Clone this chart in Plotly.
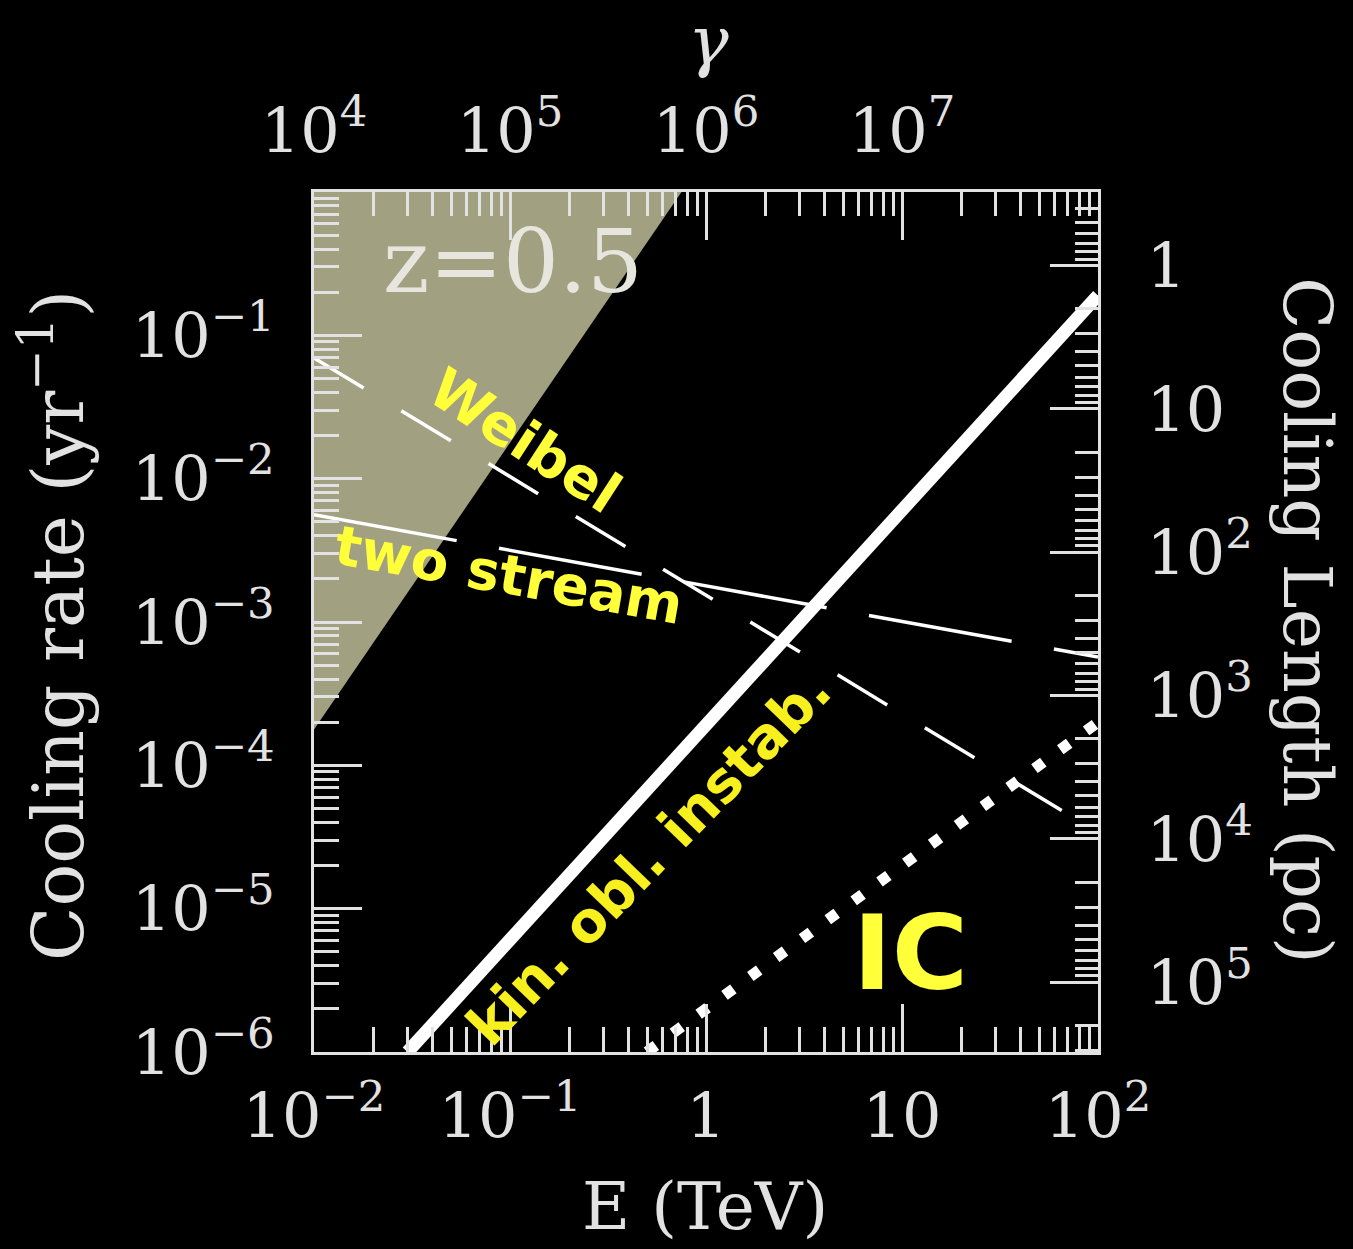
import math
import plotly.graph_objects as go

# ---- data: electron energy (TeV) vs. cooling rate (yr^-1) ----
# region excluded at z = 0.5 (shaded)
shade_E = [0.01, 0.01, 0.75]
shade_rate = [1.78e-4, 1.0, 1.0]

# kinetic oblique instability
kin_E = [0.03, 100]
kin_rate = [1e-6, 0.19]

# Weibel instability
weibel_E = [0.01, 100]
weibel_rate = [0.0695, 3.4e-5]

# two-stream instability
twostream_E = [0.01, 100]
twostream_rate = [5.6e-3, 5.7e-4]

# inverse Compton
ic_E = [0.5, 100]
ic_rate = [1e-6, 2.0e-4]

# tick values and labels
E_ticks = [0.01, 0.1, 1, 10, 100]
E_labels = ["10<sup>−2</sup>", "10<sup>−1</sup>", "1", "10", "10<sup>2</sup>"]
rate_ticks = [1e-6, 1e-5, 1e-4, 1e-3, 1e-2, 1e-1]
rate_labels = ["10<sup>−6</sup>", "10<sup>−5</sup>", "10<sup>−4</sup>",
               "10<sup>−3</sup>", "10<sup>−2</sup>", "10<sup>−1</sup>"]
gamma_ticks = [1e4, 1e5, 1e6, 1e7]
gamma_labels = ["10<sup>4</sup>", "10<sup>5</sup>", "10<sup>6</sup>", "10<sup>7</sup>"]
length_ticks = [1, 10, 100, 1e3, 1e4, 1e5]
length_labels = ["1", "10", "10<sup>2</sup>", "10<sup>3</sup>", "10<sup>4</sup>", "10<sup>5</sup>"]

# axis ranges (log10)
E_RANGE = [-2, 2]
RATE_RANGE = [-6, 0]
GAMMA_RANGE = [4, 8]
LY_PC = 0.3066  # one light-year in parsec: length = c / rate
LEN_RANGE = [math.log10(LY_PC) - RATE_RANGE[0], math.log10(LY_PC) - RATE_RANGE[1]]

FG = "#e2e2e2"
SERIF = "DejaVu Serif"
YELLOW = "#ffff3a"
HAND = "DejaVu Sans"


def minor_vals(lo, hi):
    vals = []
    for k in range(math.floor(lo), math.ceil(hi) + 1):
        for m in range(2, 10):
            v = m * 10 ** k
            if 10 ** lo <= v <= 10 ** hi:
                vals.append(v)
    return vals


fig = go.Figure()

fig.add_trace(go.Scatter(
    x=shade_E, y=shade_rate, mode="lines", fill="toself",
    fillcolor="#a1a182", line=dict(width=0), hoverinfo="skip", showlegend=False))

fig.add_trace(go.Scatter(
    x=weibel_E, y=weibel_rate, mode="lines",
    line=dict(color="white", width=3.5, dash="58px,44px"), showlegend=False))

fig.add_trace(go.Scatter(
    x=twostream_E, y=twostream_rate, mode="lines",
    line=dict(color="white", width=3.5, dash="145px,43px"), showlegend=False))

fig.add_trace(go.Scatter(
    x=ic_E, y=ic_rate, mode="lines",
    line=dict(color="white", width=11, dash="11px,21px"), showlegend=False))

fig.add_trace(go.Scatter(
    x=kin_E, y=kin_rate, mode="lines",
    line=dict(color="white", width=13), showlegend=False))

tick_font = dict(family=SERIF, size=62, color=FG)
common = dict(
    type="log", showgrid=False, zeroline=False,
    showline=True, linecolor=FG, linewidth=3,
    ticks="inside", ticklen=48, tickwidth=3, tickcolor=FG,
    tickfont=tick_font,
)

fig.update_layout(
    width=1353, height=1249, autosize=False,
    paper_bgcolor="black", plot_bgcolor="black",
    margin=dict(l=314, r=255, t=192, b=197),
    showlegend=False,
    xaxis=dict(range=E_RANGE, tickmode="array", tickvals=E_ticks, ticktext=E_labels,
               ticklabelstandoff=8,
               minor=dict(ticks="inside", ticklen=25, tickwidth=3, tickcolor=FG,
                          tickvals=minor_vals(*E_RANGE)),
               **common),
    xaxis2=dict(range=GAMMA_RANGE, overlaying="x", side="top", anchor="y",
                tickmode="array", tickvals=gamma_ticks, ticktext=gamma_labels,
                ticklabelstandoff=12,
                minor=dict(ticks="inside", ticklen=24, tickwidth=3, tickcolor=FG,
                           tickvals=minor_vals(*GAMMA_RANGE)),
                **common),
    yaxis=dict(range=RATE_RANGE, tickmode="array", tickvals=rate_ticks, ticktext=rate_labels,
               ticklabelstandoff=24,
               minor=dict(ticks="inside", ticklen=25, tickwidth=3, tickcolor=FG,
                          tickvals=minor_vals(*RATE_RANGE)),
               **common),
    yaxis2=dict(range=LEN_RANGE, overlaying="y", side="right", anchor="x",
                tickmode="array", tickvals=length_ticks, ticktext=length_labels,
                ticklabelstandoff=33,
                minor=dict(ticks="inside", ticklen=23, tickwidth=3, tickcolor=FG,
                           tickvals=minor_vals(LEN_RANGE[1], LEN_RANGE[0])),
                **common),
)

# keep the overlay axes alive with empty traces
fig.add_trace(go.Scatter(x=[None], y=[None], xaxis="x2", yaxis="y", showlegend=False, hoverinfo="skip"))
fig.add_trace(go.Scatter(x=[None], y=[None], xaxis="x", yaxis="y2", showlegend=False, hoverinfo="skip"))

annotations = [
    # axis titles
    dict(text="Cooling rate (yr<sup>−1</sup>)", xref="paper", yref="paper", x=-0.333, y=0.4965,
         textangle=-90, font=dict(family=SERIF, size=71, color=FG)),
    dict(text="Cooling Length (pc)", xref="paper", yref="paper", x=1.268, y=0.502,
         textangle=90, font=dict(family=SERIF, size=68, color=FG)),
    dict(text="E (TeV)", xref="paper", yref="paper", x=0.4987, y=-0.180,
         font=dict(family=SERIF, size=66, color=FG)),
    dict(text="<i>γ</i>", xref="paper", yref="paper", x=0.5026, y=1.176,
         font=dict(family=SERIF, size=68, color=FG)),
    # in-panel labels (log10 coordinates on log axes)
    dict(text="z=0.5", xref="x", yref="y", x=-0.985, y=-0.488,
         font=dict(family=SERIF, size=88, color="#e6e6de")),
    dict(text="<b>Weibel</b>", xref="x", yref="y", x=-0.923, y=-1.735, textangle=33,
         font=dict(family=HAND, size=56, color=YELLOW)),
    dict(text="<b>two stream</b>", xref="x", yref="y", x=-1.005, y=-2.672, textangle=10,
         font=dict(family=HAND, size=55, color=YELLOW)),
    dict(text="<b>kin. obl. instab.</b>", xref="x", yref="y", x=-0.290, y=-4.646, textangle=-46,
         font=dict(family=HAND, size=56, color="#f7f01e")),
    dict(text="<b>IC</b>", xref="x", yref="y", x=1.041, y=-5.309,
         font=dict(family=HAND, size=104, color=YELLOW)),
]
for a in annotations:
    a.setdefault("showarrow", False)
    a.setdefault("xanchor", "center")
    a.setdefault("yanchor", "middle")
fig.update_layout(annotations=annotations)

fig.write_html("out.html")
